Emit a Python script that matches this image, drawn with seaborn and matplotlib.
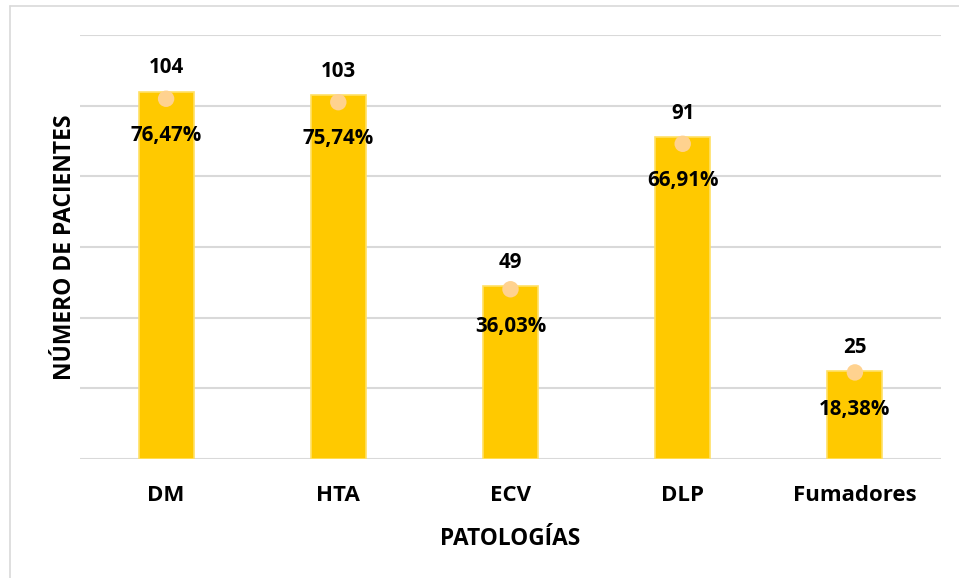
import matplotlib
matplotlib.use("Agg")
import matplotlib.pyplot as plt
from matplotlib.lines import Line2D
import seaborn as sns

# datos
patologias = ["DM", "HTA", "ECV", "DLP", "Fumadores"]
pacientes = [104, 103, 49, 91, 25]
porcentajes = [76.47, 75.74, 36.03, 66.91, 18.38]
etiquetas_pct = ["76,47%", "75,74%", "36,03%", "66,91%", "18,38%"]

sns.set_style("white")
plt.rcParams["font.family"] = ["Open Sans", "DejaVu Sans"]
plt.rcParams["text.color"] = "black"
plt.rcParams["axes.labelcolor"] = "black"
plt.rcParams["xtick.color"] = "black"

fig = plt.figure(figsize=(9.59, 5.78), dpi=100)
ax = fig.add_axes([80 / 959, 119 / 578, 861 / 959, 424 / 578])

sns.barplot(x=patologias, y=pacientes, color="#FFC900", width=0.32,
            edgecolor="#FFE066", linewidth=1.2, saturation=1, ax=ax, zorder=2)
ax.set_ylim(0, 120)
ax.set_yticks(range(0, 121, 20))
ax.yaxis.grid(True, color="#D9D9D9", linewidth=1.5, zorder=0)
ax.set_axisbelow(True)
for s in ax.spines.values():
    s.set_visible(False)
ax.set_xlabel("PATOLOGÍAS", fontsize=16.3, fontweight="bold", labelpad=15)
ax.set_ylabel("NÚMERO DE PACIENTES", fontsize=16.5, fontweight="bold", labelpad=2)

for bar, n in zip(ax.patches, pacientes):
    ax.annotate(str(n), (bar.get_x() + bar.get_width() / 2, bar.get_height()),
                xytext=(0, 17), textcoords="offset points", ha="center",
                va="center", fontsize=14.8, fontweight="bold")

# eje secundario con porcentajes
ax2 = ax.twinx()
sns.scatterplot(x=list(range(len(patologias))), y=[p / 100 for p in porcentajes],
                color="#FFD28F", s=140, edgecolor="none", ax=ax2, zorder=3)
ax2.set_ylim(0, 0.9)
ax2.set_xlim(-0.5, len(patologias) - 0.5)
ax2.set_yticks([])
ax2.set_ylabel("")
for s in ax2.spines.values():
    s.set_visible(False)
for i, (p, t) in enumerate(zip(porcentajes, etiquetas_pct)):
    ax2.annotate(t, (i, p / 100), xytext=(0, -26.5), textcoords="offset points",
                 ha="center", va="center", fontsize=14.8, fontweight="bold")

ax.tick_params(axis="y", left=False, right=False, labelleft=False, length=0)
ax.tick_params(axis="x", bottom=False, pad=18.5, labelsize=16, length=0)
for lab in ax.get_xticklabels():
    lab.set_fontweight("bold")

# marco exterior
fig.add_artist(Line2D([10 / 959, 1], [1 - 6 / 578, 1 - 6 / 578],
                      transform=fig.transFigure, color="#D9D9D9", lw=1.2))
fig.add_artist(Line2D([10 / 959, 10 / 959], [0, 1 - 6 / 578],
                      transform=fig.transFigure, color="#D9D9D9", lw=1.2))

fig.savefig("out.png", dpi=100)
